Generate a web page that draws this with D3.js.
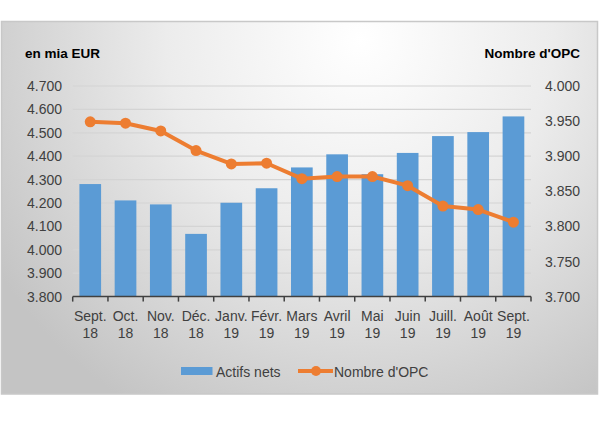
<!DOCTYPE html>
<html><head><meta charset="utf-8">
<script src="https://cdn.jsdelivr.net/npm/d3@7"></script>
<style>body{margin:0;background:#fff}svg{display:block}text{font-family:"Liberation Sans",Arial,sans-serif}</style>
</head><body>
<script>
const categories = [["Sept.","18"],["Oct.","18"],["Nov.","18"],["Déc.","18"],["Janv.","19"],["Févr.","19"],["Mars","19"],["Avril","19"],["Mai","19"],["Juin","19"],["Juill.","19"],["Août","19"],["Sept.","19"]];
const actifsNets = [4281, 4211, 4194, 4068, 4201, 4263, 4352, 4408, 4323, 4414, 4486, 4503, 4570];
const nombreOPC = [3949, 3947, 3936, 3908, 3889, 3890, 3868, 3871, 3871, 3858, 3829, 3824, 3806];
const leftTicks = [3800, 3900, 4000, 4100, 4200, 4300, 4400, 4500, 4600, 4700];
const rightTicks = [3700, 3750, 3800, 3850, 3900, 3950, 4000];
const seriesNames = ["Actifs nets", "Nombre d'OPC"];

const W = 600, H = 430;
const fmt = v => d3.format(",.3f")(v/1000).replace(",", " ").replace(/\d\.(\d{3})$/, m=>m) ;
const fmtN = v => (v/1000).toFixed(3);

const svg = d3.select("body").append("svg").attr("width", W).attr("height", H);
const defs = svg.append("defs");
const rg = defs.append("radialGradient").attr("id","bg")
  .attr("gradientUnits","userSpaceOnUse").attr("cx",360).attr("cy",40).attr("r",430);
rg.append("stop").attr("offset","0").attr("stop-color","#ffffff");
rg.append("stop").attr("offset","0.45").attr("stop-color","#ececec");
rg.append("stop").attr("offset","1").attr("stop-color","#c4c4c4");

svg.append("rect").attr("x",1.5).attr("y",21.5).attr("width",596).attr("height",372.5)
  .attr("fill","url(#bg)").attr("stroke","#c8c8c8").attr("stroke-width",1.5);

const x = d3.scaleBand().domain(d3.range(categories.length)).range([72.7, 531]).paddingInner(0.385).paddingOuter(0.19);
const yL = d3.scaleLinear().domain([3800, 4700]).range([296.6, 86]);
const yR = d3.scaleLinear().domain([3700, 4000]).range([296.6, 86]);

// gridlines
svg.append("g").selectAll("line").data(leftTicks.slice(1)).join("line")
  .attr("x1",72.7).attr("x2",531).attr("y1",d=>yL(d)).attr("y2",d=>yL(d))
  .attr("stroke","#d4d4d4").attr("stroke-width",1.2);

// bars
svg.append("g").selectAll("rect").data(actifsNets).join("rect")
  .attr("x",(d,i)=>x(i)).attr("width",x.bandwidth())
  .attr("y",d=>yL(d)).attr("height",d=>yL(3800)-yL(d)).attr("fill","#5b9bd5");

// x axis
const xAxisScale = d3.scaleLinear().domain([0,categories.length]).range([72.7,531]);
const xg = svg.append("g").attr("transform",`translate(0,${yL(3800)})`);
xg.append("line").attr("x1",72.7).attr("x2",531).attr("stroke","#404040").attr("stroke-width",1.5);
xg.selectAll("line.t").data(d3.range(categories.length+1)).join("line").attr("class","t")
  .attr("x1",d=>xAxisScale(d)).attr("x2",d=>xAxisScale(d)).attr("y1",0).attr("y2",5)
  .attr("stroke","#404040").attr("stroke-width",1.5);
const lab = svg.append("g").selectAll("text").data(categories).join("text")
  .attr("text-anchor","middle").attr("font-size",14).attr("fill","#404040")
  .attr("x",(d,i)=>x(i)+x.bandwidth()/2);
lab.append("tspan").attr("x",(d,i)=>x(i)+x.bandwidth()/2).attr("y",321).text(d=>d[0]);
lab.append("tspan").attr("x",(d,i)=>x(i)+x.bandwidth()/2).attr("y",338).text(d=>d[1]);

// left axis labels
svg.append("g").selectAll("text").data(leftTicks).join("text")
  .attr("x",62).attr("y",d=>yL(d)+5).attr("text-anchor","end").attr("font-size",14).attr("fill","#404040")
  .text(fmtN);
// right axis labels
svg.append("g").selectAll("text").data(rightTicks).join("text")
  .attr("x",545).attr("y",d=>yR(d)+5).attr("text-anchor","start").attr("font-size",14).attr("fill","#404040")
  .text(fmtN);

// titles
svg.append("text").attr("x",25).attr("y",58).attr("font-size",13.5).attr("font-weight","bold").attr("fill","#000").text("en mia EUR");
svg.append("text").attr("x",580).attr("y",58).attr("text-anchor","end").attr("font-size",13.5).attr("font-weight","bold").attr("fill","#000").text("Nombre d'OPC");

// line
const line = d3.line().x((d,i)=>x(i)+x.bandwidth()/2).y(d=>yR(d));
svg.append("path").datum(nombreOPC).attr("d",line).attr("fill","none")
  .attr("stroke","#ed7d31").attr("stroke-width",4).attr("stroke-linejoin","round");
svg.append("g").selectAll("circle").data(nombreOPC).join("circle")
  .attr("cx",(d,i)=>x(i)+x.bandwidth()/2).attr("cy",d=>yR(d)).attr("r",5.5).attr("fill","#ed7d31");

// legend
const lg = svg.append("g");
lg.append("rect").attr("x",181).attr("y",367).attr("width",31.5).attr("height",8).attr("fill","#5b9bd5");
lg.append("text").attr("x",216).attr("y",376.5).attr("font-size",14).attr("fill","#404040").text(seriesNames[0]);
lg.append("line").attr("x1",298).attr("x2",333).attr("y1",371).attr("y2",371).attr("stroke","#ed7d31").attr("stroke-width",4);
lg.append("circle").attr("cx",316).attr("cy",371).attr("r",5).attr("fill","#ed7d31");
lg.append("text").attr("x",334).attr("y",376.5).attr("font-size",14).attr("fill","#404040").text(seriesNames[1]);
</script>
</body></html>
